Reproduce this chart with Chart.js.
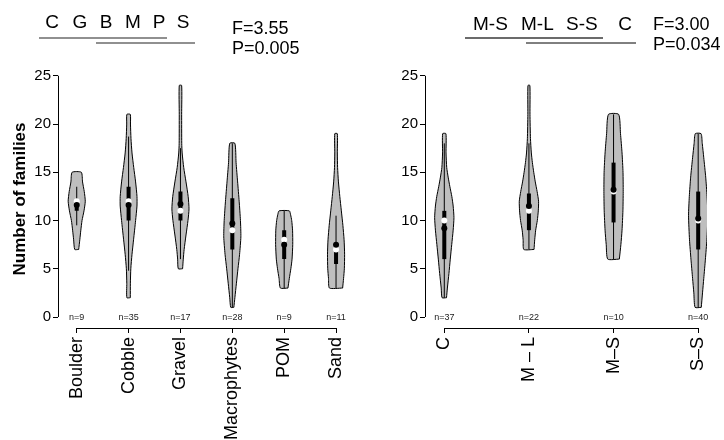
<!DOCTYPE html>
<html>
<head>
<meta charset="utf-8">
<script src="https://cdn.jsdelivr.net/npm/chart.js@4.4.1/dist/chart.umd.min.js"></script>
<style>
  body { margin: 0; background: #fff; }
  #wrap { position: relative; width: 724px; height: 440px; }
  .panel { position: absolute; top: 0; width: 362px; height: 440px; }
</style>
</head>
<body>
<div id="wrap">
  <div class="panel" style="left:0"><canvas id="left"></canvas></div>
  <div class="panel" style="left:362px"><canvas id="right"></canvas></div>
</div>
<script>
// left panel: substrate
const subCats = ['Boulder', 'Cobble', 'Gravel', 'Macrophytes', 'POM', 'Sand'];
const subN = [9, 35, 17, 28, 9, 11];
const subMedian = [12, 12, 11, 9, 8, 7];
const subMean = [11.6, 11.6, 11.7, 9.7, 7.5, 7.5];
const subQ1 = [11, 10, 10, 7, 6, 5.5];
const subQ3 = [12, 13.5, 13, 12.3, 9, 7.5];
const subLow = [9.5, 4.8, 6, 1, 3, 3];
const subHigh = [13.5, 18.7, 17.5, 18, 11, 10.5];
// density outline per violin: [value, relative half width]
const subShape = [
  [[7,0.23],[8,0.36],[9,0.48],[10,0.62],[11,0.85],[12,1],[13,0.88],[14,0.68],[15,0.54]],
  [[2,0.2],[3.5,0.21],[5,0.26],[6.5,0.4],[8,0.58],[10,0.82],[11.5,0.98],[12.5,0.98],[14,0.82],[15.5,0.6],[17,0.4],[18.5,0.28],[20,0.22],[21,0.2]],
  [[5,0.25],[6,0.33],[7,0.43],[8.5,0.65],[10,0.88],[11.2,1],[12.5,0.9],[14,0.65],[15.5,0.38],[17,0.2],[18,0.15],[21,0.14],[24,0.14]],
  [[1,0.18],[2,0.3],[3.5,0.48],[5,0.66],[6.5,0.85],[8.3,1],[10,0.95],[12,0.8],[14,0.62],[16,0.44],[18,0.3]],
  [[3,0.44],[4,0.6],[5,0.78],[6,0.92],[7.5,1],[9,0.98],[10,0.88],[10.6,0.75],[11,0.6]],
  [[3,0.77],[4,0.88],[5,0.97],[6.5,1],[8,0.94],[9.5,0.8],[11,0.62],[12.5,0.44],[14,0.28],[15.5,0.18],[17,0.15],[19,0.15]]
];

// right panel: treatment
const trtCats = ['C', 'M \u2013 L', 'M\u2013S', 'S\u2013S'];
const trtN = [37, 22, 10, 40];
const trtMedian = [10, 11, 13, 10];
const trtMean = [9.2, 11.5, 13.2, 10.2];
const trtQ1 = [6, 9, 9.8, 7];
const trtQ3 = [11, 12.8, 16, 13];
const trtLow = [2, 7, 6, 1];
const trtHigh = [18, 18, 21, 19];
const trtShape = [
  [[2,0.23],[3,0.32],[4.5,0.48],[6,0.62],[7.5,0.77],[9,0.92],[10.3,1],[11.5,0.92],[12.5,0.78],[13.5,0.58],[14.5,0.4],[15.5,0.25],[17,0.18],[19,0.17]],
  [[7,0.53],[8,0.6],[9,0.7],[10,0.87],[11,0.97],[12,1],[13,0.85],[14,0.66],[15,0.5],[16,0.36],[17,0.25],[18.5,0.16],[21,0.11],[24,0.1]],
  [[6,0.6],[7.5,0.76],[9,0.88],[11,0.97],[13,1],[15,0.98],[17,0.88],[19,0.72],[21,0.53]],
  [[1,0.32],[2.5,0.45],[4,0.58],[6,0.75],[8,0.9],[10.5,1],[12.5,0.92],[14.5,0.78],[16.5,0.58],[18,0.42],[19,0.3]]
];

const yTicks = [0, 5, 10, 15, 20, 25];

const FONT = "'Liberation Sans', Arial, Helvetica, sans-serif";
Chart.defaults.font.family = FONT;
Chart.defaults.color = '#000';

function outline(i, shape, hw) {
  const right = shape.map(p => ({x: i + p[1] * hw, y: p[0]}));
  const left = shape.slice().reverse().map(p => ({x: i - p[1] * hw, y: p[0]}));
  return right.concat(left, [right[0]]);
}

function buildDatasets(p) {
  const ds = [];
  p.cats.forEach((c, i) => {
    ds.push({data: outline(i, p.shape[i], p.hw), borderColor: '#000', borderWidth: 1,
      backgroundColor: '#bebebe', fill: 'shape', pointRadius: 0, tension: 0.2, order: 4});
    ds.push({data: [{x: i, y: p.low[i]}, {x: i, y: p.high[i]}], borderColor: '#000',
      borderWidth: 1, pointRadius: 0, fill: false, order: 3});
    ds.push({data: [{x: i, y: p.q1[i]}, {x: i, y: p.q3[i]}], borderColor: '#000',
      borderWidth: 4, pointRadius: 0, fill: false, order: 2});
  });
  ds.push({data: p.median.map((v, i) => ({x: i, y: v})), showLine: false, pointRadius: 3,
    pointBackgroundColor: '#fff', pointBorderWidth: 0, order: 1});
  ds.push({data: p.mean.map((v, i) => ({x: i, y: v})), showLine: false, pointRadius: 3,
    pointBackgroundColor: '#000', pointBorderWidth: 0, order: 0});
  return ds;
}

// R-style axis lines, n= counts and the header notes
function decor(p) {
  return {
    id: 'decor',
    afterDraw(chart) {
      const ctx = chart.ctx, xs = chart.scales.x, ys = chart.scales.y;
      const ax = Math.round(chart.chartArea.left) + 0.5;
      const ay = Math.round(chart.chartArea.bottom) + 0.5;
      ctx.save();
      ctx.strokeStyle = '#000';
      ctx.lineWidth = 1;
      ctx.beginPath();
      ctx.moveTo(ax, ys.getPixelForValue(yTicks[0]));
      ctx.lineTo(ax, ys.getPixelForValue(yTicks[yTicks.length - 1]));
      ctx.moveTo(xs.getPixelForValue(0), ay);
      ctx.lineTo(xs.getPixelForValue(p.cats.length - 1), ay);
      ctx.stroke();

      ctx.fillStyle = '#222';
      ctx.font = '9px ' + FONT;
      ctx.textAlign = 'center';
      ctx.textBaseline = 'middle';
      p.n.forEach((n, i) => {
        ctx.fillText('n=' + n, xs.getPixelForValue(i), ys.getPixelForValue(0) + 1);
      });

      ctx.fillStyle = '#000';
      ctx.font = '19px ' + FONT;
      p.letters.forEach(l => {
        ctx.textAlign = l.align;
        ctx.fillText(l.t, l.x, l.y);
      });
      p.bars.forEach(b => {
        ctx.strokeStyle = b.c;
        ctx.lineWidth = b.w;
        ctx.beginPath();
        ctx.moveTo(b.x1, b.y);
        ctx.lineTo(b.x2, b.y);
        ctx.stroke();
      });
      ctx.fillStyle = '#000';
      ctx.font = '18px ' + FONT;
      ctx.textAlign = 'left';
      ctx.fillText(p.stats[0], p.statX, p.statY[0]);
      ctx.fillText(p.stats[1], p.statX, p.statY[1]);
      ctx.restore();
    }
  };
}

function makePanel(id, p) {
  new Chart(document.getElementById(id), {
    type: 'line',
    data: {datasets: buildDatasets(p)},
    options: {
      responsive: true,
      maintainAspectRatio: false,
      animation: false,
      events: [],
      layout: {padding: {top: 70, right: 7, left: 0, bottom: 0}},
      plugins: {legend: {display: false}, tooltip: {enabled: false}},
      scales: {
        x: {
          type: 'linear', min: p.xMin, max: p.xMax,
          afterBuildTicks: s => { s.ticks = p.cats.map((c, i) => ({value: i})); },
          afterFit: s => { s.height = 112; },
          border: {display: false},
          grid: {drawOnChartArea: false, tickLength: 5, color: '#000', lineWidth: 1},
          ticks: {autoSkip: false, minRotation: 90, maxRotation: 90, padding: 4,
            font: {size: 18}, color: '#000', callback: v => p.cats[v]}
        },
        y: {
          type: 'linear', min: -1.14, max: 25.6,
          afterBuildTicks: s => { s.ticks = yTicks.map(v => ({value: v})); },
          afterFit: s => { s.width = p.axisX; },
          border: {display: false},
          grid: {drawOnChartArea: false, tickLength: 5, color: '#000', lineWidth: 1},
          ticks: {padding: 2, font: {size: 15}, color: '#000'},
          title: {display: !!p.yTitle, text: p.yTitle, color: '#000',
            font: {size: 17, weight: 'bold'}, padding: {top: 10, bottom: 0}}
        }
      }
    },
    plugins: [decor(p)]
  });
}

makePanel('left', {
  cats: subCats, n: subN, median: subMedian, mean: subMean, q1: subQ1, q3: subQ3,
  low: subLow, high: subHigh, shape: subShape, hw: 0.165,
  xMin: -0.361, xMax: 5.285, axisX: 58, yTitle: 'Number of families',
  letters: [
    {t: 'C', x: 52, y: 23, align: 'center'}, {t: 'G', x: 80, y: 23, align: 'center'},
    {t: 'B', x: 106, y: 23, align: 'center'}, {t: 'M', x: 133, y: 23, align: 'center'},
    {t: 'P', x: 159, y: 23, align: 'center'}, {t: 'S', x: 183, y: 23, align: 'center'}
  ],
  bars: [
    {x1: 39, x2: 167, y: 38, c: '#6b6b6b', w: 1.6},
    {x1: 96, x2: 195, y: 43, c: '#6b6b6b', w: 1.6}
  ],
  stats: ['F=3.55', 'P=0.005'], statX: 232, statY: [29.5, 49.5]
});

makePanel('right', {
  cats: trtCats, n: trtN, median: trtMedian, mean: trtMean, q1: trtQ1, q3: trtQ3,
  low: trtLow, high: trtHigh, shape: trtShape, hw: 0.114,
  xMin: -0.228, xMax: 3.103, axisX: 63, yTitle: '',
  letters: [
    {t: 'M-S', x: 111, y: 25, align: 'left'}, {t: 'M-L', x: 159, y: 25, align: 'left'},
    {t: 'S-S', x: 204, y: 25, align: 'left'}, {t: 'C', x: 263, y: 25, align: 'center'}
  ],
  bars: [
    {x1: 103, x2: 241, y: 38, c: '#6b6b6b', w: 2},
    {x1: 164, x2: 274, y: 43, c: '#000', w: 1}
  ],
  stats: ['F=3.00', 'P=0.034'], statX: 291, statY: [25, 45]
});
</script>
</body>
</html>
